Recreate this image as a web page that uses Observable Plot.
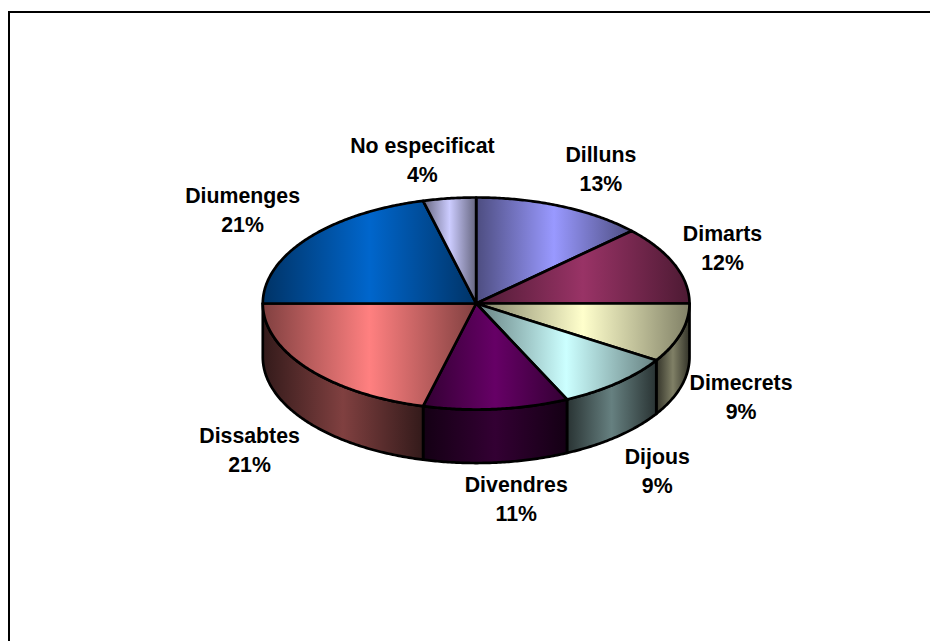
<!DOCTYPE html>
<html><head><meta charset="utf-8">
<script src="https://cdn.jsdelivr.net/npm/d3@7"></script>
<script src="https://cdn.jsdelivr.net/npm/@observablehq/plot@0.6"></script>
<style>html,body{margin:0;padding:0;background:#fff}svg{display:block}</style>
</head><body><div id="chart"></div>
<script>
const days = ["Dilluns","Dimarts","Dimecrets","Dijous","Divendres","Dissabtes","Diumenges","No especificat"];
const shares = [13,12,9,9,11,21,21,4];
const colors = ["#9999FF","#993366","#FFFFCC","#CCFFFF","#660066","#FF8080","#0066CC","#CCCCFF"];
const labelNudge = [[40,-39],[48,-18],[60,62],[40,86],[20,88],[-58,80],[-65,-30],[-27,-40]];

const depth = 0.505;
const total = d3.sum(shares);
let acc = 0;
const slices = days.map((day,i)=>{
  const a0 = acc/total*2*Math.PI; acc += shares[i];
  return {day,i,share:shares[i],a0,a1:acc/total*2*Math.PI};
});
const pt = (a,off=0)=>({x:Math.sin(a),y:Math.cos(a)-off});
const arc = (a0,a1,off=0)=>{
  const n = Math.max(2,Math.ceil(Math.abs(a1-a0)/0.01));
  return d3.range(n+1).map(k=>pt(a0+(a1-a0)*k/n,off));
};
const topPoly = s=>{const c={x:0,y:0};return [c,...arc(s.a0,s.a1),c];};
const sideRange = s=>[Math.max(s.a0,Math.PI/2),Math.min(s.a1,3*Math.PI/2)];
const sidePoly = s=>{
  const [a,b]=sideRange(s);
  const up=arc(a,b),dn=arc(b,a,depth);
  return [...up,...dn,up[0]];
};
const sided = slices.filter(s=>{const [a,b]=sideRange(s);return b-a>1e-6;});

const mix=(c,f)=>{const r=d3.rgb(c);return d3.rgb(r.r*f,r.g*f,r.b*f).formatHex();};
const gradient=(id,c,edge,mid)=>{
  const g=d3.create("svg:linearGradient").attr("id",id).attr("x1",0).attr("x2",1).attr("y1",0).attr("y2",0);
  [[0,edge],[0.5,mid],[1,edge]].forEach(([o,f])=>g.append("stop").attr("offset",o).attr("stop-color",mix(c,f)));
  return g.node();
};
const defs=()=>{
  const d=d3.create("svg:defs");
  colors.forEach((c,i)=>{
    d.append(()=>gradient(`top${i}`,c,0.5,1));
    d.append(()=>gradient(`side${i}`,c,0.2,0.5));
  });
  return d.node();
};
const lineStyle={x:"x",y:"y",stroke:"#000",strokeWidth:2.7,strokeLinejoin:"round",curve:"linear"};
const font={fontFamily:"'Liberation Sans',Arial,sans-serif",fontWeight:"bold",fontSize:21.3,fill:"#000",lineHeight:1.36,textAnchor:"middle"};

const chart = Plot.plot({
  width:930,height:641,margin:0,
  style:{background:"#fff",overflow:"visible"},
  x:{domain:[-1,1],range:[262.3,689],axis:null},
  y:{domain:[-1,1],range:[409,197],axis:null},
  marks:[
    defs,
    ...sided.map(s=>Plot.line(sidePoly(s),{...lineStyle,fill:`url(#side${s.i})`})),
    ...slices.map(s=>Plot.line(topPoly(s),{...lineStyle,fill:`url(#top${s.i})`})),
    ...slices.map(s=>{
      const m=pt((s.a0+s.a1)/2),[dx,dy]=labelNudge[s.i];
      return Plot.text([{...m,t:`${s.day}\n${s.share}%`}],{x:"x",y:"y",text:"t",dx,dy,...font});
    }),
    ()=>{
      const p=d3.create("svg:path").attr("d","M9 641V12H930").attr("fill","none").attr("stroke","#000").attr("stroke-width",2);
      return p.node();
    }
  ]
});
document.getElementById("chart").append(chart);
</script></body></html>
